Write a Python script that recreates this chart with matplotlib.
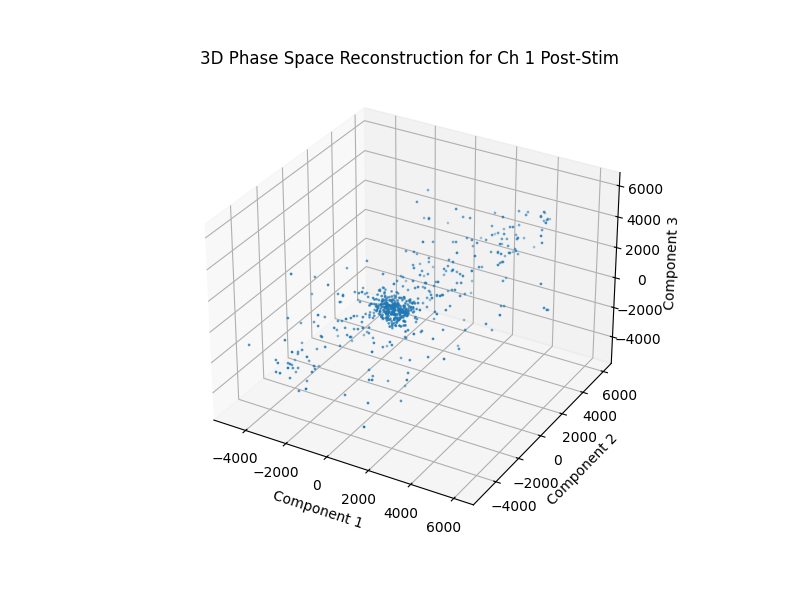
import numpy as np
import matplotlib
matplotlib.use("Agg")
import matplotlib.pyplot as plt

# ── data to the nearest 10 (stored in tens) ───────────────────────────────────
# scattered points around the central cloud
far_1 = [-51,-44,132,-53,9,34,18,129,175,218,328,323,346,372,456,388,417,440,393,443,459,409,491,243,330,329,362,257,439,285,208,278,320,324,490,296,303,370,394,343,174,218,161,243,233,180,70,47,109,151,337,269,335,477,370,-36,14,-16,207,273,288,317,353,296,347,373,298,361,385,356,276,53,46,148,189,-8,12,43,21,137,146,113,214,154,162,207,243,95,52,74,-1,74,271,240,284,320,315,348,356,328,361,525,184,192,226,90,176,108,84,128,159,131,186,220,196,235,239,112,201,152,86,91,118,33,85,56,-61,-13,-70,-46,19,-34,6,61,94,66,138,180,53,57,95,70,146,109,68,164,197,116,200,213,205,282,369,358,441,379,379,556,590,524,205,203,216,284,145,100,155,73,77,197,280,45,123,51,-46,4,-14,-68,27,-21,-11,12,47,27,133,161,73,-72,42,116,94,-158,-141,-94,-53,-114,-138,-100,-182,-159,54,48,-366,-340,-247,-150,-235,-367,-225,-179,-274,-170,-133,-170,-86,-142,-141,-193,-170,-171,-111,-67,-214,-487,-359,-352,-215,-251,-297,-243,-319,-339,-232,-202,-241,-125,-178,-211,-109,-198,-196,-134,-101,-172,-101,-79,-146,-65,-186,-259,-261,-303,-314,-270,-218,-289,-365,-328,-368,-321,-291,-330,-255,-301,-295,-336,-294,-323,-290,-193,-271,-215,-201,-254,-163,-249]
far_2 = [350,242,266,320,252,207,403,334,311,455,317,474,513,444,445,591,495,449,632,510,469,541,394,382,464,382,345,466,465,304,478,372,346,449,354,373,406,369,330,488,287,250,439,330,268,331,92,220,284,233,278,427,356,391,532,134,114,193,139,320,354,299,258,405,342,300,475,371,332,409,170,174,186,177,138,205,110,63,268,189,139,216,92,193,223,168,127,231,116,60,228,128,217,302,129,314,342,287,226,357,265,295,319,169,143,169,33,121,120,59,12,202,136,100,289,161,111,139,
6,119,100,74,33,158,83,32,177,68,-2,108,-64,54,77,41,8,161,92,61,185,30,6,93,-68,58,28,29,-14,108,95,35,212,79,102,178,88,217,245,268,227,373,26,-57,139,23,-49,22,-135,-57,21,-88,-100,-52,-113,-155,-14,-134,-177,-93,-262,-208,-194,-264,-298,-132,-146,-205,-67,-322,-325,-177,-446,-215,-127,-173,-201,-65,-189,-228,-77,-170,-144,-23,-257,-112,-3,1,-177,-96,-115,-150,-11,-68,-96,0,-149,-73,-17,-127,-191,18,-58,-91,30,-412,-303,-213,-293,-182,-196,-250,-392,-229,-247,-287,-96,-178,-227,-152,-243,-163,-134,-163,-193,-50,-128,-156,-38,-132,-289,
-238,-430,-318,-303,-338,-383,-255,-396,-438,-243,-371,-402,-327,-474,-365,-334,-442,-476,-308,-407,-369,-206,-327,-373,-331,-483,-404]
far_3 = [510,501,504,346,410,441,288,410,434,394,492,432,410,443,492,371,421,452,308,402,427,358,466,363,350,388,423,296,357,369,238,337,362,293,407,304,286,333,374,255,319,346,219,305,321,241,378,289,271,319,346,227,284,334,178,253,279,204,329,244,222,274,301,172,252,288,155,264,285,205,315,215,179,237,264,134,195,218,84,185,202,126,252,157,134,173,201,84,168,186,42,148,211,145,248,194,180,229,251,71,124,148,20,108,139,76,198,88,47,78,101,10,82,119,-35,58,80,12,135,47,15,132,168,28,91,159,19,134,178,102,188,110,51,109,150,5,59,96,-68,16,47,-21,71,-8,-77,1,29,-118,9,28,-160,-105,-46,-143,50,-2,-21,21,49,-75,-99,-102,-279,-191,-79,-153,-36,-149,-95,-203,-173,-297,-236,-117,-281,-184,-134,-181,-117,-294,-341,-307,-268,-402,-294,-287,-463,-401,-404,-466,-451,-186,-128,-78,-35,-179,-124,-95,-258,-98,-143,-176,231,127,150,231,158,-6,62,90,-79,65,91,47,151,14,36,76,81,-5,49,81,-70,-177,-23,-114,47,-55,-97,-65,-91,-230,-129,-95,-236,-139,-67,-145,30,-73,-92,-28,18,-106,-65,-5,-231,-121,-153,-232,-119,-214,-242,-173,-166,-312,-238,-213,-347,-258,-230,-305,-190,-287,-306,-273,-239,-363,-319,-226,-374,-284,-266,-378,-283,-390]

# dense central cloud
core_1 = [-52,8,-31,24,-3,-44,15,-20,41,-12,-67,3,29,-38,-9,18,-25,52,-6,-58,
11,-33,36,-15,-80,22,-1,-47,7,-28,45,-18,-71,13,-36,31,-10,-55,20,-24,
60,-4,-41,9,-30,38,-14,-63,26,-19,2,-49,16,-34,48,-8,-75,5,-27,33,
-11,-53,23,-22,57,-2,-43,12,-37,28,-17,-66,19,-29,42,-7,-60,6,-32,35,
-13,-46,25,-21,66,-5,-84,10,-39,30,-16,-56,17,-26,50,0,-40,14,-35,39,
-12,-69,21,-23,44,-9,-50,4,-31,27,-19,-62,8,-28,37,-15,-45,18,-33,54,
-6,-78,1,-24,32,-10,-52,15,-20,47,-3,-42,11,-36,24,-17,-58,29,-25,40,
-8,-65,6,-30,34,-13,-48,20,-22,63,-4,-38,9,-27,26,-18,-72,13,-34,43,
-11,-54,3,-29,36,-16,-44,22,-21,51,-7,-60,17,-32,31,-14,-47,7,-26,46,
-2,-37,12,-23,28,-19,-68,-1,-35,38,-9,-51,16,-28,33,-12,-41,10,-30,55,
-16,-14,-18,-12,-20,-15,
-80,31,-55,70,-22,-95,12,-40,88,-66,38,-8,-110,52,-30,-72,20,-48,95,-15,
44,-88,5,-35,76,-60,-102,28,-20,62,-78,-2,48,-44,-118,15,83,-28,-70,34,
-52,100,-12,-90,24,-64,58,-38,-5,72,-84,40,-24,-105,18,66,-46,-75,10,92,
-32,-58,46,-98,8,80,-18,-68,36,-42,106,-26,-112,56,-4,-82,26,-50,74,-10,
60,-92,16,-36,84,-62,-1,42,-76,22,-120,68,-16,-54,30,-86,50,-6,90,-44,
-28,14,-74,64,-100,3,-56,86,-34,47,-82,19,-12,78,-66,33,-108,54,-23,-48]
core_2 = [-47,12,-33,-70,5,-18,28,-56,-9,-41,19,-26,-82,-2,34,-60,-14,-37,8,-50,
-22,41,-65,-11,-30,16,-75,-4,-44,25,-19,-53,3,-35,-88,11,-28,46,-59,-7,
-39,21,-16,-68,-1,-48,30,-24,-78,7,-32,15,-57,-12,38,-42,-20,-63,-5,24,
-29,-84,10,-46,33,-15,-54,-3,-36,18,-71,-10,27,-43,-25,52,-61,-8,-31,13,
-17,-66,6,-40,36,-23,-51,1,-34,22,-76,-13,43,-45,-27,9,-58,-6,-38,17,
-21,-90,14,-49,29,-16,-62,-2,-30,26,-72,-9,39,-44,-24,4,-55,-12,-35,20,
-28,-64,11,-41,48,-19,-52,0,-37,23,-80,-15,31,-47,-26,7,-59,-4,-33,16,
-20,-69,13,-43,35,-14,-56,-1,-32,28,-74,-11,42,-46,-23,5,-60,-8,-36,19,
-27,-86,9,-39,32,-17,-50,2,-34,24,-67,-13,55,-45,-22,6,-57,-7,-30,15,
-25,-73,12,-42,37,-18,-53,-3,-29,21,-77,-10,30,-48,-26,8,-61,-5,-31,18,
-21,-24,-20,-26,-18,-22,
25,-72,-40,-95,10,40,-60,-15,-110,22,-85,5,-30,-70,48,-55,-12,55,-100,-25,
-8,35,-78,-45,-118,18,-20,-65,60,-92,-35,28,-105,-2,42,-50,-80,12,-28,-68,
38,-88,-18,52,-58,-115,8,-38,30,-75,-5,-98,45,-22,-62,15,-48,-108,32,-82,
-42,-10,58,-70,20,-90,-32,-125,2,50,-55,-15,-78,26,-100,-6,-46,62,-66,-24,
-86,44,-36,-112,14,-52,-3,-72,36,-94,-28,54,-60,-14,-120,24,-40,-80,6,-44,
-16,-68,40,-104,-26,-84,46,-4,-58,10,-96,-34,65,-74,-20,-50,28,-88,-9,-38]
core_3 = [14,-41,-72,-8,26,-55,-19,33,-30,-66,2,-47,21,-12,-80,39,-25,-58,7,-36,
-63,18,-44,-5,-28,50,-70,-15,11,-52,-33,28,-22,-85,4,-39,16,-60,-10,31,
5,-49,-27,42,-74,-13,-35,19,-57,-3,-68,24,-42,-17,9,-31,-78,36,-21,-50,
-38,27,-6,-61,-24,12,-46,-83,0,-29,45,-54,-16,22,-37,-65,8,-11,-48,30,
-56,3,-32,17,-76,-20,38,-43,-9,-59,25,-26,-69,10,-14,-40,48,-34,-4,-62,
20,-51,-23,-7,35,-88,-18,13,-45,-30,-1,-64,29,-37,-12,-71,6,-53,23,-27,
-16,-58,41,-35,-2,-47,15,-79,-25,32,-10,-55,-19,1,-67,37,-41,-28,11,-50,
-44,26,-13,-73,-31,8,-60,-21,44,-36,-6,-52,18,-82,-24,-39,4,-15,-65,34,
-29,-3,-57,22,-46,-17,-75,40,-33,-11,-54,16,-26,-68,-8,-43,27,-20,-61,2,
10,-38,-84,-22,-49,30,-14,-63,19,-32,-5,-70,-27,47,-42,-12,-56,7,-35,-18,
-120,-130,-110,-140,-100,-125,
30,-20,65,-48,12,-75,40,-5,58,-30,-60,78,-14,22,-52,48,-38,8,-68,35,
-10,55,-42,70,-25,15,-58,42,-82,3,62,-35,28,-18,-70,50,-46,18,85,-28,
45,-65,-8,32,-88,60,5,-40,26,-55,72,-16,38,-78,10,-32,52,-22,-62,20,
-44,68,1,-72,36,-12,46,-90,24,-36,64,-6,-50,16,80,-26,42,-66,6,-40,
56,-30,-84,28,-2,44,-56,74,-20,14,-76,34,-10,50,-48,66,-34,2,-60,18,
-24,40,-70,60,-14,26,-95,48,-4,-42,30,-64,76,-28,10,-52,36,-18,54,-80]

comp1 = np.array(far_1 + core_1) * 10
comp2 = np.array(far_2 + core_2) * 10
comp3 = np.array(far_3 + core_3) * 10

fig = plt.figure(figsize=(8, 6), dpi=100)
ax = fig.add_subplot(111, projection="3d")
ax.scatter(comp1, comp2, comp3, s=1)
ax.set_xlim(-5600, 6900)
ax.set_ylim(-5925, 6800)
ax.set_zlim(-5820, 6850)
ax.set_xlabel("Component 1")
ax.set_ylabel("Component 2")
ax.set_zlabel("Component 3")
ax.set_title("3D Phase Space Reconstruction for Ch 1 Post-Stim")
fig.savefig("out.png")
